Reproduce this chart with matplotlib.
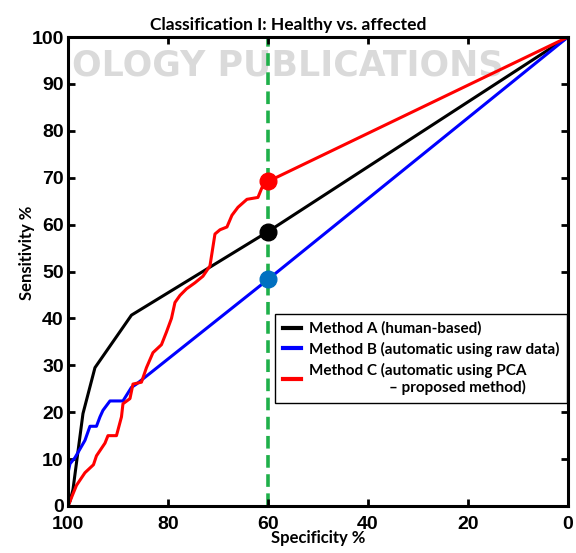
import matplotlib.pyplot as plt
from matplotlib.ticker import MultipleLocator

# ROC points (specificity %, sensitivity %)
spec_a = [100, 99.6, 99, 97, 94.6, 87.3, 60, 0]
sens_a = [0, 1, 3.5, 19.7, 29.5, 40.7, 58.5, 100]

spec_b = [100, 100, 99.6, 98.6, 96.6, 95.6, 94.3, 93.6, 93, 91.6, 89, 87.3, 86.3, 60, 0]
sens_b = [0, 7, 9, 10.3, 14, 17, 17, 19, 20.4, 22.4, 22.4, 25.3, 26, 48.3, 100]

spec_c = [100, 99.6, 98.3, 96.6, 94.9, 94.3, 92.6, 92, 90.3, 89.3, 89, 87.6, 87,
          85.3, 84.3, 83, 81.3, 80.3, 79.3, 78.6, 77.6, 76.3, 74.6, 73, 71.6,
          70.6, 69.6, 68.2, 67.2, 66, 64.2, 62, 61.2, 60, 0]
sens_c = [0, 1, 4.4, 7.1, 8.8, 10.7, 13.4, 15, 15, 19, 21.8, 22.9, 26,
          26.4, 29.5, 32.7, 34.4, 37.1, 40, 43.4, 44.9, 46.3, 47.6, 49, 51.2,
          58, 58.9, 59.5, 62, 63.7, 65.4, 65.8, 67.9, 69.2, 100]

# operating points at the chosen specificity
cut_spec = 60
cut_sens = [58.5, 48.3, 69.2]  # A, B, C

labels = ['Method A (human-based)',
          'Method B (automatic using raw data)',
          'Method C (automatic using PCA\n\u2013 proposed method)']

fig = plt.figure(figsize=(5.76, 5.53), dpi=100)
ax = fig.add_axes([0.118, 0.085, 0.868, 0.848])
ax.set_facecolor('none')

# faint publisher watermark behind the plot
fig.text(0.5, 0.882, 'OLOGY PUBLICATIONS', ha='center', va='center',
         fontsize=25, fontweight='bold', color='#dadada', zorder=-1,
         family='DejaVu Sans')

ax.axvline(cut_spec, color='#1fb04a', lw=2.6, ls=(0, (3.5, 1.8)), zorder=1)

ax.plot(spec_a, sens_a, color='black', lw=2.2, label=labels[0], zorder=2)
ax.plot(spec_b, sens_b, color='#0000ff', lw=2.2, label=labels[1], zorder=2)
ax.plot(spec_c, sens_c, color='#ff0000', lw=2.2, label=labels[2], zorder=2)

ax.plot(cut_spec, cut_sens[2], 'o', color='#ff0000', ms=12, zorder=3)
ax.plot(cut_spec, cut_sens[0], 'o', color='black', ms=12, zorder=3)
ax.plot(cut_spec, cut_sens[1], 'o', color='#0070c0', ms=12, zorder=3)

ax.set_xlim(100, 0)
ax.set_ylim(0, 100)
ax.xaxis.set_major_locator(MultipleLocator(20))
ax.yaxis.set_major_locator(MultipleLocator(10))
ax.tick_params(direction='in', length=5, width=2, top=True, right=True,
               labelsize=14)
ax.tick_params(axis='x', pad=7)
ax.tick_params(axis='y', pad=3)
for t in ax.get_xticklabels() + ax.get_yticklabels():
    t.set_fontweight('bold')
    t.set_family('Liberation Sans')
for s in ax.spines.values():
    s.set_linewidth(2.2)

# title sits centred on the figure rather than the axes
ax.set_title('Classification I: Healthy vs. affected', fontsize=12.5,
             fontweight='bold', family='Lato', pad=5, x=0.44)
ax.set_xlabel('Specificity %', fontsize=12, fontweight='bold', family='Lato',
              labelpad=-2)
ax.set_ylabel('Sensitivity %', fontsize=12, fontweight='bold', family='Lato')
ax.yaxis.set_label_coords(-0.066, 0.54)

leg = ax.legend(loc='upper left', bbox_to_anchor=(0.414, 0.41),
                borderaxespad=0, fancybox=False, edgecolor='black',
                framealpha=1, handlelength=1.2, handletextpad=0.5,
                labelspacing=0.38, borderpad=0.5,
                prop={'family': 'Lato', 'weight': 'bold', 'size': 11})
leg.get_frame().set_linewidth(1)
for t in leg.get_texts():
    t.set_multialignment('right')
for h in leg.legend_handles:
    h.set_linewidth(3)

fig.savefig('out.png', dpi=100)
